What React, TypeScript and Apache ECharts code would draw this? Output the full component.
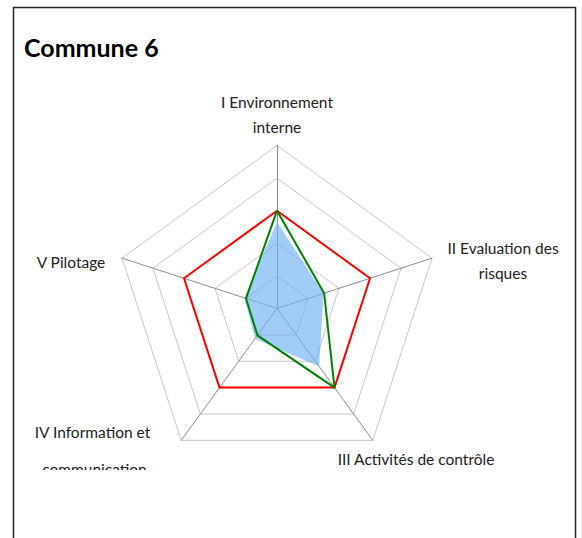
import React, { useEffect, useRef } from "react";
import * as echarts from "echarts";

// Indicators in reference order (clockwise from top)
const indicatorNames = [
  "I Environnement interne",
  "II Evaluation des risques",
  "III Activités de contrôle",
  "IV Information et communication",
  "V Pilotage",
];
const maxValue = 5;
const blueValues = [2.65, 1.5, 2.2, 1.15, 1.05];
const redValues = [3, 3, 3, 3, 3];
const greenValues = [3, 1.52, 3, 1.02, 1.0];
const titleText = "Commune 6";

// ECharts radar runs counter-clockwise; reorder so the layout is clockwise
const order = [0, 4, 3, 2, 1];
const reorder = (arr: any[]) => order.map((i) => arr[i]);

const FONT = "Lato, 'Open Sans', sans-serif";

export default function App() {
  const ref = useRef<HTMLDivElement>(null);
  useEffect(() => {
    if (!ref.current) return;
    const chart = echarts.init(ref.current, null, { renderer: "svg" });
    const labelStyle = (text: string, x: number, y: number) => ({
      type: "text",
      x,
      y,
      z: 10,
      style: {
        text,
        fill: "#222",
        font: `15.5px ${FONT}`,
        textAlign: "center",
        textVerticalAlign: "middle",
      },
    });
    chart.setOption({
      animation: false,
      backgroundColor: "#fff",
      radar: {
        center: [277, 308.5],
        radius: 163,
        startAngle: 90,
        splitNumber: 5,
        shape: "polygon",
        indicator: reorder(indicatorNames).map((n: string) => ({ name: n, max: maxValue, min: 0 })),
        axisName: { show: false },
        axisLine: { lineStyle: { color: "#8c8c8c", width: 1 } },
        splitLine: { lineStyle: { color: "#c6c6c6", width: 1 } },
        splitArea: { show: false },
        axisTick: { show: false },
        axisLabel: { show: false },
      },
      series: [
        {
          type: "radar",
          symbol: "none",
          z: 2,
          lineStyle: { width: 0, opacity: 0 },
          areaStyle: { color: "rgb(110,176,245)", opacity: 0.65 },
          data: [{ value: reorder(blueValues), name: "Commune" }],
        },
        {
          type: "radar",
          symbol: "none",
          z: 3,
          lineStyle: { width: 2, color: "#ff0000" },
          data: [{ value: reorder(redValues), name: "Objectif" }],
        },
        {
          type: "radar",
          symbol: "none",
          z: 4,
          lineStyle: { width: 2, color: "#008000" },
          data: [{ value: reorder(greenValues), name: "Moyenne" }],
        },
      ],
      graphic: [
        {
          type: "rect",
          shape: { x: 13.5, y: 7.5, width: 562, height: 545 },
          style: { fill: "none", stroke: "#262626", lineWidth: 1.5 },
          z: 1,
        },
        {
          type: "text",
          x: 24,
          y: 47,
          z: 10,
          style: {
            text: titleText,
            fill: "#000",
            font: `bold 25px ${FONT}`,
            textAlign: "left",
            textVerticalAlign: "middle",
          },
        },
        labelStyle("I Environnement", 277, 102),
        labelStyle("interne", 277, 126.5),
        labelStyle("II Evaluation des", 503, 248),
        labelStyle("risques", 503, 273),
        labelStyle("III Activités de contrôle", 416, 459),
        labelStyle("IV Information et", 92.5, 431.5),
        labelStyle("communication", 94.5, 468.5),
        {
          type: "rect",
          z: 11,
          shape: { x: 30, y: 470, width: 140, height: 20 },
          style: { fill: "#fff" },
        },
        labelStyle("V Pilotage", 71, 261.5),
      ],
    });
    return () => chart.dispose();
  }, []);
  return (
    <div
      ref={ref}
      style={{ position: "fixed", left: 0, top: 0, width: 582, height: 538 }}
    />
  );
}
